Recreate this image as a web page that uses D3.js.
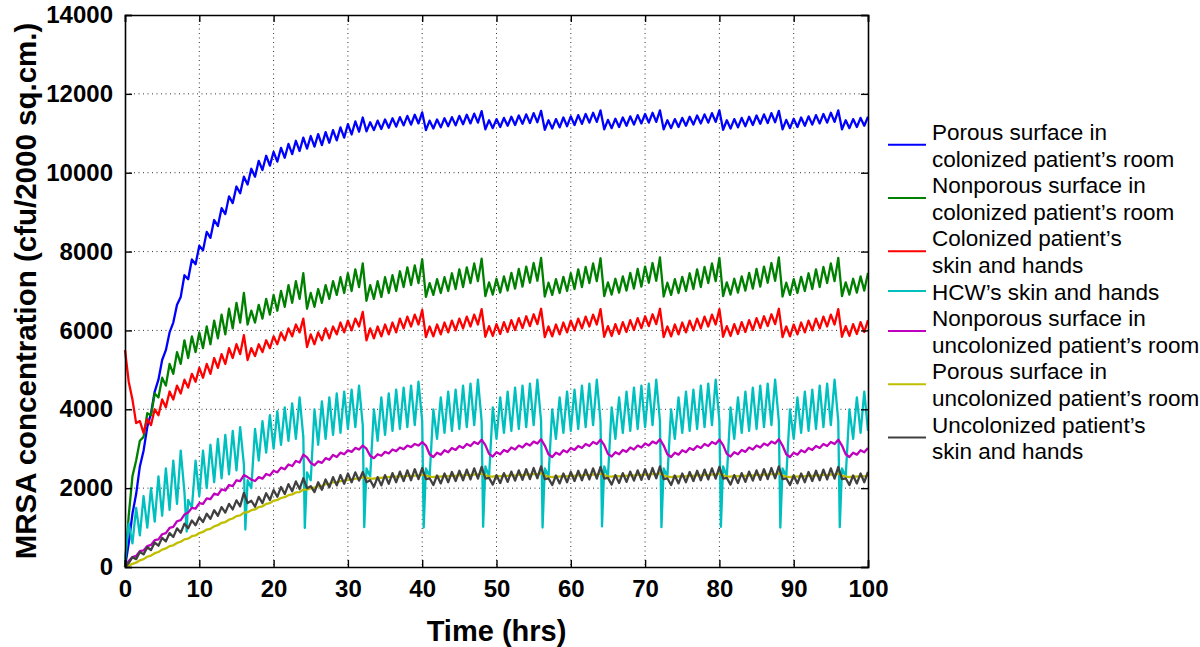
<!DOCTYPE html>
<html><head><meta charset="utf-8">
<script src="https://cdn.jsdelivr.net/npm/d3@7"></script>
<style>
body{margin:0;background:#fff;}
svg{display:block;font-family:"Liberation Sans",Arial,Helvetica,sans-serif;}
</style>
</head><body>
<svg id="chart" width="1200" height="647"></svg>
<script>
// ---------------- data ----------------
const xTicks = [0,10,20,30,40,50,60,70,80,90,100];
const yTicks = [0,2000,4000,6000,8000,10000,12000,14000];
const xTitle = "Time (hrs)";
const yTitle = "MRSA concentration (cfu/2000 sq.cm.)";
const seriesNames = [
  ["Porous surface in","colonized patient\u2019s room"],
  ["Nonporous surface in","colonized patient\u2019s room"],
  ["Colonized patient\u2019s","skin and hands"],
  ["HCW\u2019s skin and hands"],
  ["Nonporous surface in","uncolonized patient\u2019s room"],
  ["Porous surface in","uncolonized patient\u2019s room"],
  ["Uncolonized patient\u2019s","skin and hands"]
];
const seriesColors = ["#0000ff","#008000","#ff0000","#00bfbf","#bf00bf","#bfbf00","#404040"];

// samples every 0.5 h from 0 to 100 h
const porousColonized = [0,
 600,1350,1850,2550,2950,3550,3900,4450,4750,5250,5500,5950,6200,6650,6850,7400,
 7300,7800,7680,8150,8030,8500,8350,8800,8650,9100,8950,9400,9230,9650,9480,9900,
 9700,10100,9900,10300,10070,10430,10180,10530,10280,10630,10380,10730,10470,10810,10550,10890,
 10610,10930,10660,10980,10700,11030,10760,11080,10820,11150,10890,11230,10970,11300,11040,11400,
 11050,11280,11080,11320,11110,11350,11140,11380,11170,11410,11200,11440,11220,11470,11250,11530,
 11080,11320,11120,11350,11150,11380,11180,11410,11200,11440,11230,11470,11250,11500,11270,11560,
 11100,11330,11130,11360,11160,11390,11190,11420,11210,11450,11240,11480,11260,11510,11280,11570,
 11090,11330,11120,11360,11150,11400,11180,11430,11210,11460,11240,11490,11270,11520,11290,11580,
 11100,11340,11130,11370,11160,11400,11190,11430,11220,11460,11250,11490,11270,11520,11290,11580,
 11100,11330,11130,11360,11160,11390,11190,11420,11220,11450,11250,11480,11270,11510,11290,11580,
 11090,11330,11120,11360,11150,11390,11180,11420,11210,11450,11240,11480,11260,11510,11280,11570,
 11100,11340,11130,11370,11160,11400,11190,11430,11220,11460,11250,11490,11270,11520,11290,11580,
 11100,11330,11130,11360,11160,11390,11190,11420];

const nonporousColonized = [0,
 1300,2300,2700,3200,3300,3900,3850,4400,4300,4800,4600,5150,4900,5450,5150,5750,
 5300,5850,5450,5950,5550,6100,5650,6250,5800,6400,5900,6550,6050,6700,6200,6950,
 6150,6500,6200,6650,6300,6800,6400,6900,6500,7000,6600,7150,6700,7250,6800,7450,
 6550,6950,6600,7050,6700,7150,6800,7250,6900,7350,6950,7450,7000,7550,7100,7700,
 6750,7150,6800,7250,6850,7350,6950,7400,7000,7500,7100,7600,7150,7650,7200,7800,
 6850,7200,6900,7300,6950,7350,7000,7450,7050,7550,7100,7600,7200,7700,7250,7820,
 6870,7220,6910,7310,6960,7370,7010,7460,7060,7560,7110,7620,7210,7710,7260,7840,
 6860,7210,6900,7300,6950,7360,7000,7450,7050,7550,7100,7610,7200,7700,7250,7830,
 6870,7220,6910,7310,6960,7370,7010,7460,7060,7560,7110,7620,7210,7710,7260,7850,
 6860,7210,6900,7300,6950,7360,7000,7450,7050,7550,7100,7610,7200,7700,7250,7840,
 6870,7220,6910,7310,6960,7370,7010,7460,7060,7560,7110,7620,7210,7710,7260,7850,
 6860,7210,6900,7300,6950,7360,7000,7450,7050,7550,7100,7610,7200,7700,7250,7840,
 6870,7220,6910,7310,6960,7370,7010,7460];

const colonizedPatient = [5500,
 4700,4250,3650,3700,3400,3750,3600,4000,3850,4250,4050,4450,4250,4600,4400,4750,
 4550,4900,4700,5050,4800,5150,4900,5300,5050,5400,5150,5550,5300,5650,5400,5880,
 5250,5550,5350,5650,5450,5750,5550,5850,5650,5950,5750,6050,5850,6150,5950,6300,
 5580,5900,5650,5950,5750,6050,5800,6100,5900,6200,5950,6250,6000,6300,6100,6470,
 5750,6050,5800,6100,5850,6150,5900,6200,5950,6300,6050,6350,6100,6400,6150,6520,
 5830,6100,5850,6150,5900,6200,5950,6250,6000,6300,6050,6350,6100,6400,6150,6540,
 5840,6110,5860,6160,5910,6210,5960,6260,6010,6310,6060,6360,6110,6410,6160,6550,
 5830,6100,5850,6150,5900,6200,5950,6250,6000,6300,6050,6350,6100,6400,6150,6540,
 5840,6110,5860,6160,5910,6210,5960,6260,6010,6310,6060,6360,6110,6410,6160,6550,
 5830,6100,5850,6150,5900,6200,5950,6250,6000,6300,6050,6350,6100,6400,6150,6540,
 5840,6110,5860,6160,5910,6210,5960,6260,6010,6310,6060,6360,6110,6410,6160,6550,
 5830,6100,5850,6150,5900,6200,5950,6250,6000,6300,6050,6350,6100,6400,6150,6540,
 5840,6110,5860,6160,5910,6210,5960,6260];

const hcwHands = [200,
 1100,600,1500,800,1800,1000,2000,1150,2300,1300,2500,1450,2700,1600,2950,1900,
 1700,1500,2700,1800,2950,2000,3100,2150,3250,2250,3350,2350,3450,2450,3550,2600,
 2200,2000,3500,2700,3700,2900,3850,3000,3950,3100,4050,3200,4150,3250,4300,3300,
 2400,2200,4000,3100,4200,3250,4300,3350,4400,3400,4450,3500,4500,3550,4600,3600,
 2500,2300,4000,3200,4300,3350,4400,3450,4500,3500,4550,3550,4600,3600,4700,3700,
 2500,2300,4000,3250,4300,3400,4450,3450,4500,3500,4600,3550,4650,3600,4750,3700,
 2550,2300,4050,3250,4300,3400,4450,3450,4550,3500,4600,3550,4650,3600,4750,3700,
 2500,2300,4000,3250,4300,3400,4450,3450,4500,3500,4600,3550,4650,3600,4750,3700,
 2550,2300,4050,3250,4300,3400,4450,3450,4550,3500,4600,3550,4650,3600,4750,3700,
 2500,2300,4000,3250,4300,3400,4450,3450,4500,3500,4600,3550,4650,3600,4750,3700,
 2550,2300,4050,3250,4300,3400,4450,3450,4550,3500,4600,3550,4650,3600,4750,3700,
 2500,2300,4000,3250,4300,3400,4450,3450,4500,3500,4600,3550,4650,3600,4750,3700,
 2500,2300,4000,3250,4300,3400,4450,3450];
// short hand-washing dips of the HCW curve
const hcwDipTimes = [8.3,16.2,24.2,32.2,40.2,48.2,56.2,64.2,72.2,80.2,88.2,96.2];
const hcwDipValues = [900,950,990,1010,1000,1020,1000,1030,1010,1020,1000,1010];

const nonporousUncolonized = [0,
 150,250,280,400,420,530,560,680,700,830,860,990,1020,1160,1190,1330,
 1380,1500,1480,1620,1600,1740,1720,1860,1830,1970,1940,2080,2050,2200,2180,2330,
 2280,2220,2180,2280,2240,2360,2320,2440,2400,2520,2480,2600,2560,2690,2650,2850,
 2780,2640,2580,2680,2640,2760,2720,2840,2790,2900,2860,2960,2920,3020,2980,3080,
 3000,2820,2760,2860,2820,2920,2880,2980,2940,3030,2990,3080,3040,3120,3080,3170,
 3080,2860,2790,2900,2850,2960,2910,3020,2970,3070,3020,3120,3070,3170,3120,3230,
 3090,2870,2800,2910,2860,2970,2920,3030,2980,3080,3030,3130,3080,3180,3130,3240,
 3080,2860,2790,2900,2850,2960,2910,3020,2970,3070,3020,3120,3070,3170,3120,3230,
 3090,2870,2800,2910,2860,2970,2920,3030,2980,3080,3030,3130,3080,3180,3130,3240,
 3080,2860,2790,2900,2850,2960,2910,3020,2970,3070,3020,3120,3070,3170,3120,3230,
 3090,2870,2800,2910,2860,2970,2920,3030,2980,3080,3030,3130,3080,3180,3130,3240,
 3080,2860,2790,2900,2850,2960,2910,3020,2970,3070,3020,3120,3070,3170,3120,3230,
 3080,2860,2790,2900,2850,2960,2910,3020];

const porousUncolonized = [0,
 30,80,110,170,200,260,290,350,380,440,470,530,550,610,640,700,
 720,780,800,860,890,950,970,1030,1060,1120,1140,1200,1230,1290,1310,1380,
 1390,1440,1460,1520,1540,1600,1620,1680,1700,1750,1770,1820,1840,1890,1900,1960,
 1960,2000,2010,2050,2060,2100,2110,2150,2150,2180,2190,2210,2220,2240,2250,2280,
 2260,2240,2240,2260,2260,2280,2280,2290,2290,2300,2300,2310,2310,2320,2320,2340,
 2320,2290,2280,2300,2290,2310,2300,2320,2310,2330,2320,2340,2330,2350,2340,2370,
 2330,2300,2290,2310,2300,2320,2310,2330,2320,2340,2330,2350,2340,2360,2350,2380,
 2320,2290,2280,2300,2290,2310,2300,2320,2310,2330,2320,2340,2330,2350,2340,2370,
 2330,2300,2290,2310,2300,2320,2310,2330,2320,2340,2330,2350,2340,2360,2350,2380,
 2320,2290,2280,2300,2290,2310,2300,2320,2310,2330,2320,2340,2330,2350,2340,2370,
 2330,2300,2290,2310,2300,2320,2310,2330,2320,2340,2330,2350,2340,2360,2350,2380,
 2320,2290,2280,2300,2290,2310,2300,2320,2310,2330,2320,2340,2330,2350,2340,2370,
 2320,2290,2280,2300,2290,2310,2300,2320];

const uncolonizedPatient = [0,
 100,250,200,380,320,500,430,620,540,740,650,860,760,980,870,1100,
 980,1180,1060,1260,1140,1350,1220,1440,1300,1520,1380,1600,1460,1690,1540,1880,
 1620,1680,1530,1780,1620,1870,1700,1950,1780,2030,1850,2100,1920,2170,1980,2250,
 2000,2050,1900,2150,1960,2220,2020,2280,2070,2330,2110,2370,2150,2400,2190,2410,
 2150,2200,2030,2280,2070,2330,2110,2380,2150,2420,2180,2450,2200,2480,2230,2510,
 2230,2250,2080,2320,2120,2370,2150,2410,2180,2440,2200,2470,2220,2500,2240,2540,
 2240,2260,2090,2330,2130,2380,2160,2420,2190,2450,2210,2480,2230,2510,2250,2550,
 2230,2250,2080,2320,2120,2370,2150,2410,2180,2440,2200,2470,2220,2500,2240,2540,
 2240,2260,2090,2330,2130,2380,2160,2420,2190,2450,2210,2480,2230,2510,2250,2550,
 2230,2250,2080,2320,2120,2370,2150,2410,2180,2440,2200,2470,2220,2500,2240,2540,
 2240,2260,2090,2330,2130,2380,2160,2420,2190,2450,2210,2480,2230,2510,2250,2550,
 2230,2250,2080,2320,2120,2370,2150,2410,2180,2440,2200,2470,2220,2500,2240,2540,
 2230,2250,2080,2320,2120,2370,2150,2410];

// ---------------- chart ----------------
const times = d3.range(0, 100.0001, 0.5);
const allSeries = [porousColonized, nonporousColonized, colonizedPatient, hcwHands,
                   nonporousUncolonized, porousUncolonized, uncolonizedPatient];

const L = 125, R = 868, T = 15, B = 567;
const svg = d3.select("#chart");
const x = d3.scaleLinear().domain([0,100]).range([L,R]);
const y = d3.scaleLinear().domain([0,14000]).range([B,T]);

// grid
const grid = svg.append("g").attr("stroke","#333").attr("stroke-width",1)
  .attr("stroke-dasharray","1,3.5");
grid.selectAll("line.gx").data(xTicks.slice(1,-1)).join("line")
  .attr("x1",d=>x(d)).attr("x2",d=>x(d)).attr("y1",T).attr("y2",B);
grid.selectAll("line.gy").data(yTicks.slice(1,-1)).join("line")
  .attr("y1",d=>y(d)).attr("y2",d=>y(d)).attr("x1",L).attr("x2",R);

// lines
const line = d3.line().x(d=>x(d[0])).y(d=>y(d[1]));
const plot = svg.append("g").attr("fill","none").attr("stroke-width",2.3).attr("stroke-linejoin","round");
allSeries.forEach((vals,i)=>{
  let pts = times.map((t,j)=>[t, vals[j]]);
  if (i === 3) {
    pts = pts.concat(hcwDipTimes.map((t,j)=>[t, hcwDipValues[j]]));
    pts.sort((a,b)=>a[0]-b[0]);
  }
  plot.append("path").attr("d", line(pts)).attr("stroke", seriesColors[i]);
});

// axes
const tickFont = "bold 24px 'Liberation Sans', Arial, sans-serif";
const ax = svg.append("g").attr("transform",`translate(0,${B})`)
  .call(d3.axisBottom(x).tickValues(xTicks).tickSize(-7).tickPadding(13).tickFormat(d3.format("d")));
const ay = svg.append("g").attr("transform",`translate(${L},0)`)
  .call(d3.axisLeft(y).tickValues(yTicks).tickSize(-7).tickPadding(12).tickFormat(d3.format("d")));
const at = svg.append("g").attr("transform",`translate(0,${T})`)
  .call(d3.axisTop(x).tickValues(xTicks).tickSize(-7).tickFormat(""));
const ar = svg.append("g").attr("transform",`translate(${R},0)`)
  .call(d3.axisRight(y).tickValues(yTicks).tickSize(-7).tickFormat(""));
[ax,ay,at,ar].forEach(g=>{
  g.select(".domain").attr("stroke","#000").attr("stroke-width",1.6);
  g.selectAll(".tick line").attr("stroke","#000").attr("stroke-width",1.4);
  g.selectAll(".tick text").attr("fill","#000").style("font",tickFont);
});

// axis titles
svg.append("text").attr("x",(L+R)/2).attr("y",641).attr("text-anchor","middle")
  .style("font","bold 29px 'Liberation Sans', Arial, sans-serif").text(xTitle);
svg.append("text").attr("transform",`translate(36,${(T+B)/2}) rotate(-90)`).attr("text-anchor","middle")
  .style("font","bold 29.5px 'Liberation Sans', Arial, sans-serif").text(yTitle);

// legend
const leg = svg.append("g");
let lineIdx = 0;
seriesNames.forEach((lines,i)=>{
  const first = 140 + 26.6*lineIdx;
  const last = 140 + 26.6*(lineIdx + lines.length - 1);
  const ly = (first+last)/2 - 8.5;
  leg.append("line").attr("x1",888).attr("x2",926).attr("y1",ly).attr("y2",ly)
    .attr("stroke",seriesColors[i]).attr("stroke-width",2);
  lines.forEach((s,k)=>{
    leg.append("text").attr("x",932).attr("y",first + 26.6*k)
      .style("font","22.5px 'Liberation Sans', Arial, sans-serif").attr("fill","#000").text(s);
  });
  lineIdx += lines.length;
});
</script>
</body></html>
